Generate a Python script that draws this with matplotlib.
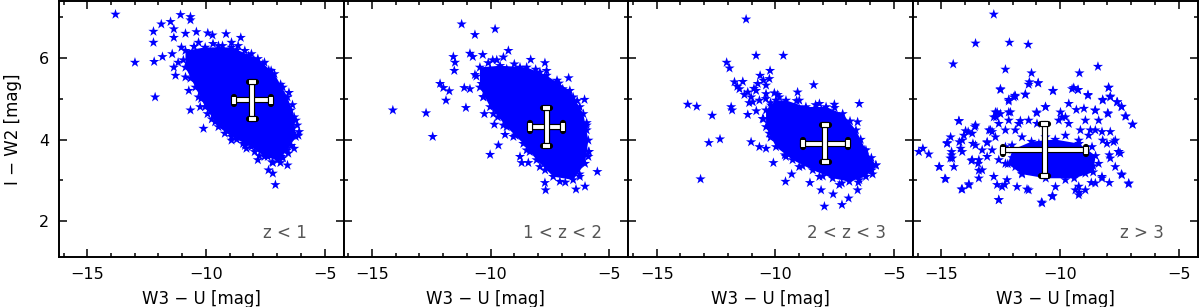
import matplotlib
matplotlib.use("Agg")
import matplotlib.pyplot as plt
import matplotlib.patheffects as pe
from matplotlib.ticker import MultipleLocator

LABELS = ["z < 1", "1 < z < 2", "2 < z < 3", "z > 3"]

# single stars: outliers and the ragged rim of each cloud
P1_X = [-13.81, -12.99, -12.21, -12.21, -12.18, -12.14, -11.88, -11.49, -11.07, -10.65,
        -10.65, -11.35, -11.35, -10.86, -10.40, -9.92, -9.72, -9.15, -8.53, -11.83,
        -11.42, -11.35, -11.28, -11.17, -10.72, -10.65, -10.31, -10.24, -10.10, -9.93,
        -9.61, -8.29, -7.81, -7.36, -7.18, -7.07, -7.18, -6.86, -6.56, -6.53,
        -6.28, -6.07, -6.21, -7.53, -8.08, -8.64,
        -8.92, -8.64, -8.43, -7.94, -7.39, -6.83, -6.69, -6.35, -6.42, -6.76,
        -7.25, -7.94, -8.36, -8.92, -9.47, -10.31, -10.58, -10.86, -10.31, -9.75,
        -9.61, -9.19, -11.03, -10.44, -10.14,
        -10.50, -9.70, -9.30, -8.70, -8.20, -7.60, -7.35, -6.85, -6.50, -6.35,
        -6.15, -6.10, -6.40, -6.75, -7.20, -7.75, -8.35, -8.70, -9.20, -9.75,
        -10.20, -10.65, -10.95]
P1_Y = [7.07, 5.89, 6.65, 6.38, 5.91, 5.04, 6.83, 6.89, 7.06, 7.01,
        6.93, 6.71, 6.50, 6.60, 6.64, 6.61, 6.56, 6.59, 6.50, 6.03,
        6.10, 5.77, 5.57, 5.89, 5.20, 4.72, 5.04, 4.80, 4.27, 4.63,
        4.43, 3.78, 3.50, 3.25, 3.17, 2.89, 3.43, 3.43, 3.37, 3.66,
        3.78, 4.19, 4.47, 5.89, 6.10, 6.30,
        3.98, 4.19, 3.90, 3.70, 3.58, 3.58, 3.90, 4.15, 4.72, 5.28,
        5.69, 5.93, 6.18, 6.38, 6.30, 6.38, 6.10, 5.53, 5.37, 4.96,
        4.72, 4.39, 6.26, 5.77, 5.89,
        6.28, 6.35, 6.30, 6.20, 6.05, 5.85, 5.70, 5.35, 5.15, 4.85,
        4.35, 4.10, 3.85, 3.55, 3.45, 3.60, 3.85, 4.00, 4.15, 4.50,
        5.00, 5.50, 5.95]

P2_X = [-11.22, -10.66, -9.81, -11.57, -11.50, -11.53, -10.87, -10.75, -10.33, -9.91,
        -9.74, -9.25, -9.46, -8.31, -7.71, -7.64, -7.12, -6.96, -6.71, -6.04,
        -5.95, -5.50, -5.88, -6.02, -6.40, -7.71, -7.68, -8.41, -8.69, -8.76,
        -10.02, -9.67, -9.39, -9.84, -9.46, -10.26, -11.04, -11.11, -10.87, -12.13,
        -11.99, -11.74, -11.88, -14.12, -12.72, -12.44, -10.66,
        -10.16, -10.31, -9.88, -9.04, -8.48, -7.92, -7.08, -6.24, -5.88, -5.95,
        -6.24, -6.52, -7.22, -7.92, -8.76, -9.32, -10.02, -10.38,
        -10.10, -9.00, -8.10, -7.20, -6.35, -5.95, -5.85, -6.25, -6.85, -7.70,
        -8.35, -8.95, -9.70, -10.30, -10.60]
P2_Y = [6.83, 6.57, 6.71, 6.03, 5.89, 5.69, 6.11, 6.03, 6.08, 5.95,
        5.95, 6.18, 6.02, 5.96, 5.88, 5.69, 5.38, 5.24, 5.51, 4.98,
        4.41, 3.21, 3.70, 2.85, 2.78, 2.94, 2.76, 3.43, 3.43, 3.58,
        3.63, 3.86, 4.12, 4.37, 4.35, 4.63, 4.78, 5.27, 5.24, 5.37,
        5.27, 5.19, 4.96, 4.72, 4.65, 4.07, 5.59,
        5.53, 5.04, 4.63, 4.07, 3.74, 3.33, 2.97, 3.09, 3.58, 4.23,
        4.80, 5.04, 5.37, 5.65, 5.77, 5.73, 5.73, 5.37,
        5.88, 5.85, 5.72, 5.45, 4.95, 4.35, 3.70, 3.15, 2.95, 3.25,
        3.70, 4.10, 4.55, 5.05, 5.55]

P3_X = [-11.23, -10.81, -9.66, -12.05, -11.93, -11.72, -11.37, -10.64, -10.25, -10.22,
        -8.38, -7.51, -6.46, -6.53, -5.76, -5.93, -13.69, -13.31, -12.66, -12.33,
        -12.80, -13.15, -11.86, -11.82, -11.16, -11.02, -10.67, -10.39, -10.08, -9.57,
        -9.31, -8.54, -8.07, -7.93, -7.56, -7.19, -6.91, -6.53, -11.16, -10.81,
        -10.04, -9.06,
        -11.51, -11.02, -10.67, -10.53, -10.25, -9.83, -9.55, -8.99, -8.14, -7.30,
        -6.46, -6.04, -6.25, -6.74, -7.30, -8.14, -8.99, -9.83, -10.39, -9.55,
        -10.74, -10.39, -10.18, -10.95,
        -9.10, -8.30, -7.50, -6.85, -6.40, -5.95, -5.90, -6.50, -7.20, -8.00,
        -8.85, -9.60, -10.20, -10.50, -10.20,
        -11.60, -11.30, -10.90, -10.50, -11.10, -10.80, -10.40, -9.90]
P3_Y = [6.95, 6.06, 6.06, 5.89, 5.75, 5.41, 5.42, 5.57, 5.49, 5.69,
        5.34, 4.86, 4.88, 4.43, 3.37, 3.25, 4.86, 4.81, 4.59, 4.01,
        3.92, 3.03, 4.80, 4.72, 4.61, 3.94, 3.82, 3.78, 3.43, 2.97,
        3.15, 2.94, 2.76, 2.36, 2.66, 2.40, 2.56, 2.76, 5.16, 5.20,
        5.14, 5.16,
        5.24, 5.04, 4.96, 4.51, 4.15, 3.98, 3.58, 3.33, 3.09, 2.89,
        3.01, 3.25, 3.74, 4.15, 4.55, 4.88, 4.96, 5.04, 5.12, 4.80,
        5.37, 5.33, 4.84, 4.92,
        4.95, 4.85, 4.78, 4.45, 4.00, 3.55, 3.15, 2.95, 2.93, 3.10,
        3.35, 3.62, 4.05, 4.50, 4.90,
        5.30, 5.10, 5.25, 5.45, 4.90, 4.70, 5.00, 5.10]

P4_X = [-12.79, -13.56, -12.13, -11.34, -14.50, -12.30, -11.20, -9.18, -8.40, -10.92,
        -11.29, -12.51, -10.29, -9.49, -9.24, -8.82, -7.95, -7.88, -8.20, -7.58,
        -7.40, -7.22, -6.94, -7.97, -8.52, -8.99, -11.95, -11.88, -11.46, -12.16,
        -12.09, -12.72, -12.69, -14.26, -13.59, -13.87, -14.05, -14.76, -14.24, -13.67,
        -13.07, -14.57, -14.62, -14.12, -15.95, -15.78, -15.53, -15.08, -14.82, -14.15,
        -13.84, -13.73, -13.45, -13.42, -12.58, -12.65, -12.33, -11.39, -10.78, -10.31,
        -9.21, -9.19, -8.68, -8.23, -7.92, -7.41, -7.10, -7.74, -8.20, -7.53,
        -7.92, -8.72, -9.91, -10.61, -10.99, -11.67, -12.99, -12.86, -14.61,
        -12.51, -11.32, -10.92, -11.90, -11.46, -12.16, -10.30, -9.42, -9.24, -8.82,
        -7.95, -7.88, -8.20, -7.60, -7.41, -8.51, -7.99, -7.25, -6.94, -10.61,
        -9.63, -9.31, -9.98, -10.97, -12.16, -12.65, -12.79, -12.51, -14.26, -13.56,
        -13.98, -13.70, -14.75, -14.12, -14.19, -14.57, -14.54, -15.10, -14.85, -14.12,
        -13.84, -13.56, -13.07, -12.93, -12.58, -12.30, -11.74, -11.32, -10.97, -10.05,
        -9.63, -9.14, -8.79, -8.51, -8.23, -7.88, -7.67, -8.02, -7.53, -7.46,
        -7.88, -7.67, -7.39, -7.11, -8.23, -8.51, -8.93, -9.35, -9.21, -9.77,
        -10.19, -10.33, -10.75, -11.32, -11.81, -12.23, -12.58, -12.44, -12.79, -13.28,
        -13.42, -13.70, -13.07, -12.86, -13.28, -12.02, -11.60, -12.30, -11.88, -11.60,
        -11.04, -11.32, -9.63, -9.91, -9.35, -9.07, -8.65, -8.37, -8.93, -9.49,
        -10.19, -10.89, -11.74, -12.30, -12.58, -12.72, -11.88, -10.61, -9.77, -9.21,
        -9.77, -8.93, -8.37, -12.16, -13.42, -14.47,
        -11.10, -10.40, -9.60, -8.90, -11.50, -10.70, -10.00, -9.20, -8.60, -12.00]
P4_Y = [7.07, 6.36, 6.38, 6.33, 5.85, 5.72, 5.63, 5.63, 5.79, 5.39,
        5.41, 5.22, 5.20, 5.24, 5.22, 5.08, 5.27, 5.04, 4.98, 4.92,
        4.80, 4.57, 4.37, 4.63, 4.72, 4.76, 5.04, 5.06, 5.11, 4.98,
        4.67, 4.67, 4.55, 4.46, 4.31, 4.19, 4.10, 3.90, 3.94, 3.90,
        3.92, 3.70, 3.54, 3.70, 3.70, 3.78, 3.64, 3.33, 3.03, 2.78,
        2.91, 3.48, 3.41, 3.24, 2.52, 2.89, 2.89, 2.78, 2.46, 2.62,
        2.85, 2.70, 2.94, 3.05, 2.94, 3.15, 2.93, 3.94, 3.98, 3.70,
        3.62, 4.23, 4.55, 4.80, 4.67, 4.46, 4.23, 4.19, 4.06,
        5.24, 5.35, 5.38, 5.08, 5.10, 4.94, 5.19, 5.27, 5.22, 5.10,
        5.28, 5.06, 4.96, 4.92, 4.81, 4.71, 4.65, 4.57, 4.37, 4.80,
        4.88, 4.73, 4.67, 4.65, 4.67, 4.67, 4.55, 4.63, 4.45, 4.35,
        4.21, 4.15, 3.92, 3.98, 3.78, 3.62, 3.54, 3.33, 3.04, 2.78,
        2.88, 3.86, 3.94, 4.23, 4.39, 4.23, 4.39, 4.47, 4.39, 4.47,
        4.39, 4.23, 4.10, 4.23, 4.19, 4.19, 3.98, 3.90, 3.70, 3.66,
        3.54, 3.33, 3.13, 2.91, 3.09, 2.93, 2.76, 2.76, 2.64, 3.01,
        2.84, 2.60, 2.44, 2.76, 2.84, 3.01, 2.52, 2.84, 3.09, 3.25,
        3.50, 3.50, 3.58, 3.74, 3.74, 3.86, 4.06, 3.41, 3.33, 3.17,
        3.25, 3.58, 3.74, 3.41, 3.41, 3.58, 3.82, 3.41, 3.17, 3.17,
        3.90, 3.90, 3.66, 3.82, 3.50, 4.06, 4.23, 4.06, 4.10, 3.98,
        4.55, 4.47, 4.47, 4.47, 3.05, 3.33,
        3.60, 3.55, 3.60, 3.45, 3.30, 3.25, 3.30, 3.25, 3.35, 3.55]

# outline of the saturated core of each cloud
CORE1_X = [-10.86, -10.03, -8.92, -7.81, -7.11, -6.56, -6.28, -6.21, -6.56, -6.97,
           -7.53, -8.08, -8.92, -9.47, -10.03, -10.44, -10.86]
CORE1_Y = [6.18, 6.26, 6.26, 5.98, 5.61, 5.04, 4.55, 4.07, 3.74, 3.50,
           3.58, 3.82, 4.07, 4.31, 4.80, 5.28, 5.77]
CORE2_X = [-10.45, -9.60, -8.48, -7.64, -6.66, -6.09, -5.88, -6.02, -6.52, -7.36,
           -8.06, -8.62, -9.32, -10.02, -10.45]
CORE2_Y = [5.77, 5.81, 5.77, 5.57, 5.20, 4.63, 3.98, 3.41, 3.01, 3.09,
           3.50, 3.90, 4.31, 4.80, 5.28]
CORE3_X = [-9.55, -8.71, -7.86, -7.16, -6.60, -6.18, -5.76, -6.18, -6.88, -7.58,
           -8.42, -9.27, -9.97, -10.39, -10.39, -9.97]
CORE3_Y = [4.96, 4.80, 4.80, 4.63, 4.23, 3.74, 3.37, 3.09, 2.97, 3.05,
           3.25, 3.50, 3.82, 4.31, 4.72, 4.96]
CORE4_X = [-12.00, -11.20, -10.20, -9.20, -8.50, -8.60, -9.40, -10.60, -11.60, -12.20]
CORE4_Y = [3.75, 3.95, 4.00, 3.90, 3.60, 3.20, 3.05, 3.05, 3.15, 3.40]

# typical error cross per panel
ERR_X = [-8.05, -7.64, -7.90, -10.65]
ERR_Y = [4.96, 4.31, 3.90, 3.74]
ERR_DX = [0.78, 0.69, 0.95, 1.74]
ERR_DY = [0.45, 0.47, 0.45, 0.63]

points = [(P1_X, P1_Y), (P2_X, P2_Y), (P3_X, P3_Y), (P4_X, P4_Y)]
cores = [(CORE1_X, CORE1_Y), (CORE2_X, CORE2_Y), (CORE3_X, CORE3_Y), (CORE4_X, CORE4_Y)]
label_x = [0.87, 0.907, 0.905, 0.88]
BLUE = "#0000ff"

plt.rcParams["font.family"] = ["DejaVu Sans"]
fig, axes = plt.subplots(1, 4, figsize=(12, 3.07), dpi=100, sharey=True)
fig.subplots_adjust(left=0.049, right=0.998, top=0.997, bottom=0.163, wspace=0)

outline = [pe.Stroke(linewidth=4.5, foreground="black", capstyle="round"), pe.Normal()]

for i, ax in enumerate(axes):
    px, py = points[i]
    cx, cy = cores[i]
    ax.fill(cx, cy, facecolor=BLUE, edgecolor="none", zorder=2)
    ax.scatter(cx, cy, marker="*", s=60, c=BLUE, edgecolors="none", zorder=3)
    ax.scatter(px, py, marker="*", s=60, c=BLUE, edgecolors="none", zorder=3)

    eb = ax.errorbar(ERR_X[i], ERR_Y[i], xerr=ERR_DX[i], yerr=ERR_DY[i], fmt="none",
                     ecolor="white", elinewidth=2.8, capsize=2.6, capthick=2.8, zorder=5)
    for ln in eb.lines[1]:
        ln.set_path_effects(outline)
    for lc in eb.lines[2]:
        lc.set_path_effects(outline)

    ax.text(label_x[i], 0.075, LABELS[i], transform=ax.transAxes, ha="right",
            va="baseline", fontsize=12, color="#555555")

    ax.set_xlim(-16.2, -4.2)
    ax.set_ylim(1.12, 7.4)
    ax.xaxis.set_major_locator(MultipleLocator(5))
    ax.xaxis.set_minor_locator(MultipleLocator(1))
    ax.yaxis.set_major_locator(MultipleLocator(2))
    ax.yaxis.set_minor_locator(MultipleLocator(1))
    ax.tick_params(which="both", direction="in", top=True, right=True, width=1.1,
                   labelsize=11.5, pad=7)
    ax.tick_params(which="major", length=6)
    ax.tick_params(which="minor", length=3)
    for sp in ax.spines.values():
        sp.set_linewidth(1.4)
    ax.set_xlabel("W3 − U [mag]", fontsize=12, labelpad=6)
    if i > 0:
        ax.tick_params(labelleft=False)

axes[0].set_ylabel("I − W2 [mag]", fontsize=12, labelpad=12)

fig.savefig("out.png", dpi=100)
